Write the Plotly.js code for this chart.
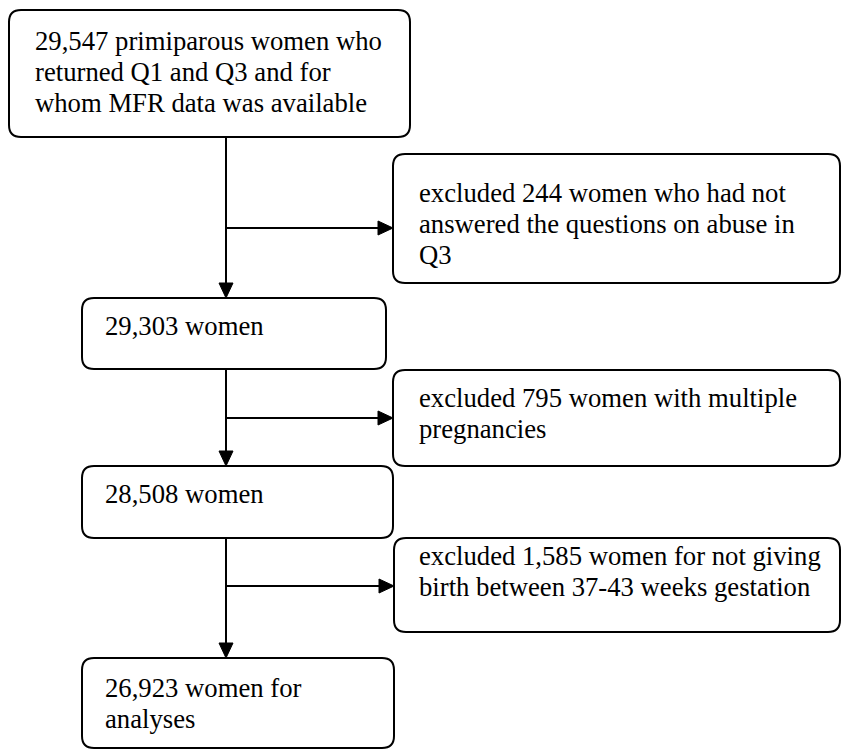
<!DOCTYPE html>
<html>
<head>
<meta charset="utf-8">
<script src="https://cdn.plot.ly/plotly-3.0.1.min.js"></script>
<style>
html,body{margin:0;padding:0;background:#fff;}
#chart text.annotation-text{font-family:"Liberation Serif","Times New Roman",Tinos,"DejaVu Serif",serif !important;}
</style>
</head>
<body>
<div id="chart" style="width:842px;height:751px;"></div>
<script>
// ---- data: flow counts and box text ----
const stageCounts = [29547, 29303, 28508, 26923];
const excludedCounts = [244, 795, 1585];
const stageText = [
  ["29,547 primiparous women who", "returned Q1 and Q3 and for", "whom MFR data was available"],
  ["29,303 women"],
  ["28,508 women"],
  ["26,923 women for", "analyses"]
];
const excludedText = [
  ["excluded 244 women who had not", "answered the questions on abuse in", "Q3"],
  ["excluded 795 women with multiple", "pregnancies"],
  ["excluded 1,585 women for not giving", "birth between 37-43 weeks gestation"]
];

// ---- geometry (pixel layout) ----
const stageBoxes = [
  {x0: 9,  x1: 410, y0: 10,  y1: 137, tx: 33,  ty: 50},
  {x0: 82, x1: 386, y0: 298, y1: 369, tx: 103, ty: 335},
  {x0: 82, x1: 393, y0: 466, y1: 538, tx: 103, ty: 503},
  {x0: 82, x1: 394, y0: 658, y1: 748, tx: 103, ty: 697}
];
const excludedBoxes = [
  {x0: 393, x1: 840, y0: 154, y1: 283, tx: 417, ty: 202, ay: 228},
  {x0: 393, x1: 840, y0: 370, y1: 466, tx: 417, ty: 407, ay: 418},
  {x0: 394, x1: 840, y0: 538, y1: 632, tx: 417, ty: 565, ay: 586}
];
const spineX = 226;
const lineGap = 31;
const radius = 12;
const fontSize = 26.7;
const fontFamily = "Times New Roman, Liberation Serif, serif";
const lw = 2;

function roundRect(b) {
  const r = radius;
  return `M ${b.x0 + r} ${b.y0} L ${b.x1 - r} ${b.y0} Q ${b.x1} ${b.y0} ${b.x1} ${b.y0 + r} ` +
         `L ${b.x1} ${b.y1 - r} Q ${b.x1} ${b.y1} ${b.x1 - r} ${b.y1} ` +
         `L ${b.x0 + r} ${b.y1} Q ${b.x0} ${b.y1} ${b.x0} ${b.y1 - r} ` +
         `L ${b.x0} ${b.y0 + r} Q ${b.x0} ${b.y0} ${b.x0 + r} ${b.y0} Z`;
}

const shapes = [];
const annotations = [];
const black = "#000";

function addText(lines, b) {
  lines.forEach((t, i) => {
    annotations.push({
      x: b.tx, y: b.ty + i * lineGap - 9, xref: "x", yref: "y",
      text: t, showarrow: false, xanchor: "left", yanchor: "middle",
      font: {family: fontFamily, size: fontSize, color: black}
    });
  });
}

stageBoxes.forEach((b, i) => {
  shapes.push({type: "path", path: roundRect(b), line: {color: black, width: lw}, fillcolor: "rgba(0,0,0,0)", xref: "x", yref: "y"});
  addText(stageText[i], b);
});
excludedBoxes.forEach((b, i) => {
  shapes.push({type: "path", path: roundRect(b), line: {color: black, width: lw}, fillcolor: "rgba(0,0,0,0)", xref: "x", yref: "y"});
  addText(excludedText[i], b);
});

const headLen = 15, headHalf = 7;
function arrowDown(x, y0, y1) {
  shapes.push({type: "line", x0: x, x1: x, y0: y0, y1: y1 - headLen + 1, line: {color: black, width: lw}, xref: "x", yref: "y"});
  shapes.push({type: "path", path: `M ${x - headHalf} ${y1 - headLen} L ${x + headHalf} ${y1 - headLen} L ${x} ${y1} Z`,
    fillcolor: black, line: {color: black, width: 1}, xref: "x", yref: "y"});
}
function arrowRight(x0, x1, y) {
  shapes.push({type: "line", x0: x0, x1: x1 - headLen + 1, y0: y, y1: y, line: {color: black, width: lw}, xref: "x", yref: "y"});
  shapes.push({type: "path", path: `M ${x1 - headLen} ${y - headHalf} L ${x1 - headLen} ${y + headHalf} L ${x1} ${y} Z`,
    fillcolor: black, line: {color: black, width: 1}, xref: "x", yref: "y"});
}

for (let i = 0; i < excludedBoxes.length; i++) {
  arrowDown(spineX, stageBoxes[i].y1, stageBoxes[i + 1].y0);
  arrowRight(spineX, excludedBoxes[i].x0, excludedBoxes[i].ay);
}

const layout = {
  width: 842, height: 751,
  margin: {l: 0, r: 0, t: 0, b: 0},
  paper_bgcolor: "#fff", plot_bgcolor: "#fff",
  font: {family: fontFamily, size: fontSize, color: black},
  xaxis: {range: [0, 842], visible: false, fixedrange: true},
  yaxis: {range: [751, 0], visible: false, fixedrange: true},
  showlegend: false,
  shapes: shapes,
  annotations: annotations
};
Plotly.newPlot("chart", [], layout, {staticPlot: true, displayModeBar: false});
</script>
</body>
</html>
